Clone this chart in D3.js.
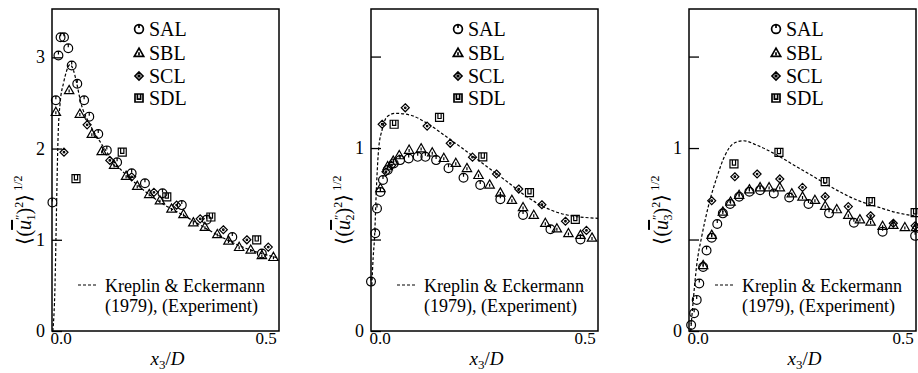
<!DOCTYPE html>
<html>
<head>
<meta charset="utf-8">
<script src="https://cdn.jsdelivr.net/npm/d3@7"></script>
<style>
  @font-face { font-family: "PaperSerif"; src: local("Liberation Serif"), local("LiberationSerif"), local("Tinos"); }
  @font-face { font-family: "PaperSerif"; font-style: italic; src: local("Liberation Serif Italic"), local("LiberationSerif-Italic"); }
  text, tspan { font-family: "Liberation Serif", "Times New Roman", Tinos, PaperSerif, serif !important; }
</style>
</head>
<body style="margin:0">
<svg id="chart" width="918" height="373"></svg>
<script>
// ---- data (x3/D, rms value) ----
const seriesNames = ['SAL', 'SBL', 'SCL', 'SDL'];
const refLines = ['Kreplin & Eckermann', '(1979), (Experiment)'];
const xTickValues = [0, 0.5];

// panel 1 : <(u1'')^2>^1/2
const u1YTicks = [0, 1, 2, 3];
const u1YLabels = [0, 1, 2, 3];
const u1SAL = [[0.001,1.41],[0.009,2.53],[0.015,3.02],[0.020,3.22],[0.028,3.22],[0.038,3.10],[0.046,2.91],[0.059,2.71],[0.075,2.53],[0.087,2.35],[0.108,2.16],[0.128,1.98],[0.152,1.85],[0.186,1.73],[0.217,1.62],[0.258,1.51],[0.303,1.38],[0.361,1.22],[0.421,1.03],[0.490,0.85]];
const u1SBL = [[0.009,2.40],[0.040,2.64],[0.065,2.38],[0.093,2.16],[0.116,1.97],[0.145,1.82],[0.173,1.70],[0.199,1.59],[0.227,1.50],[0.252,1.43],[0.279,1.34],[0.307,1.28],[0.330,1.19],[0.357,1.14],[0.386,1.06],[0.412,0.99],[0.437,0.92],[0.464,0.89],[0.490,0.83],[0.517,0.81]];
const u1SCL = [[0.028,1.96],[0.082,2.26],[0.135,1.87],[0.186,1.69],[0.238,1.52],[0.291,1.38],[0.346,1.23],[0.400,1.11],[0.455,1.00],[0.505,0.92]];
const u1SDL = [[0.056,1.67],[0.164,1.96],[0.268,1.47],[0.371,1.25],[0.478,1.00]];
const u1Kreplin = [[0.002,0],[0.007,0.5],[0.010,1.2],[0.012,1.7],[0.014,2.1],[0.019,2.5],[0.027,2.72],[0.034,2.85],[0.042,2.92],[0.050,2.86],[0.058,2.71],[0.066,2.53],[0.090,2.25],[0.113,2.07],[0.142,1.87],[0.190,1.64],[0.250,1.42],[0.314,1.25],[0.376,1.08],[0.440,0.93],[0.530,0.80]];

// panel 2 : <(u2'')^2>^1/2
const u2YTicks = [0, 0.5, 1, 1.5];
const u2YLabels = [0, 1];
const u2SAL = [[0.000,0.27],[0.010,0.534],[0.014,0.67],[0.022,0.76],[0.028,0.825],[0.039,0.88],[0.053,0.916],[0.068,0.934],[0.088,0.943],[0.109,0.952],[0.127,0.952],[0.152,0.934],[0.181,0.89],[0.216,0.838],[0.255,0.798],[0.302,0.72],[0.355,0.634],[0.419,0.556],[0.489,0.50]];
const u2SBL = [[0.022,0.78],[0.039,0.90],[0.052,0.93],[0.066,0.96],[0.089,0.99],[0.117,0.998],[0.143,0.975],[0.170,0.945],[0.198,0.918],[0.224,0.89],[0.251,0.852],[0.277,0.80],[0.302,0.756],[0.329,0.716],[0.355,0.676],[0.380,0.634],[0.407,0.59],[0.434,0.56],[0.461,0.534],[0.489,0.525],[0.516,0.51]];
const u2SCL = [[0.026,1.13],[0.035,0.87],[0.048,0.905],[0.080,1.22],[0.131,1.12],[0.185,1.026],[0.237,0.95],[0.293,0.858],[0.345,0.776],[0.399,0.69],[0.454,0.60],[0.503,0.55]];
const u2SDL = [[0.054,1.13],[0.160,1.168],[0.261,0.952],[0.370,0.756],[0.477,0.61]];
const u2Kreplin = [[0.002,0.25],[0.005,0.40],[0.008,0.50],[0.013,0.80],[0.018,1.00],[0.026,1.10],[0.037,1.17],[0.057,1.19],[0.092,1.18],[0.131,1.135],[0.177,1.06],[0.224,0.98],[0.271,0.898],[0.318,0.816],[0.364,0.734],[0.411,0.67],[0.458,0.634],[0.530,0.616]];

// panel 3 : <(u3'')^2>^1/2
const u3YTicks = [0, 0.5, 1, 1.5];
const u3YLabels = [0, 1];
const u3SAL = [[0.005,0.033],[0.012,0.097],[0.018,0.17],[0.024,0.26],[0.033,0.35],[0.041,0.44],[0.053,0.51],[0.066,0.585],[0.079,0.643],[0.096,0.694],[0.117,0.734],[0.141,0.761],[0.166,0.77],[0.198,0.752],[0.234,0.73],[0.279,0.694],[0.327,0.643],[0.385,0.592],[0.452,0.543],[0.528,0.52]];
const u3SBL = [[0.033,0.36],[0.053,0.525],[0.079,0.652],[0.097,0.707],[0.117,0.743],[0.141,0.774],[0.166,0.785],[0.187,0.785],[0.212,0.785],[0.240,0.752],[0.265,0.734],[0.294,0.716],[0.318,0.683],[0.345,0.665],[0.372,0.634],[0.399,0.61],[0.424,0.597],[0.452,0.574],[0.477,0.579],[0.504,0.567],[0.530,0.567]];
const u3SCL = [[0.053,0.712],[0.107,0.843],[0.159,0.858],[0.212,0.831],[0.265,0.785],[0.318,0.734],[0.372,0.68],[0.424,0.63],[0.477,0.589],[0.528,0.575]];
const u3SDL = [[0.105,0.913],[0.210,0.976],[0.318,0.816],[0.424,0.707],[0.528,0.647]];
const u3Kreplin = [[0.004,0],[0.010,0.17],[0.018,0.36],[0.030,0.52],[0.045,0.68],[0.065,0.84],[0.084,0.96],[0.104,1.025],[0.127,1.04],[0.158,1.016],[0.205,0.962],[0.251,0.898],[0.298,0.834],[0.345,0.77],[0.392,0.716],[0.438,0.68],[0.485,0.647],[0.530,0.628]];

// ---- layout ----
const svg = d3.select('#chart');
const TOP = 9, BOTTOM = 331, PW = 227, X_MAX = 0.53;
const ink = '#000';

const panels = [
  { left: 52,  yMax: 3.53, ticks: u1YTicks, labels: u1YLabels, series: [u1SAL, u1SBL, u1SCL, u1SDL], ref: u1Kreplin, sub: '1' },
  { left: 371, yMax: 1.76, ticks: u2YTicks, labels: u2YLabels, series: [u2SAL, u2SBL, u2SCL, u2SDL], ref: u2Kreplin, sub: '2' },
  { left: 689, yMax: 1.76, ticks: u3YTicks, labels: u3YLabels, series: [u3SAL, u3SBL, u3SCL, u3SDL], ref: u3Kreplin, sub: '3' },
];

// marker outlines, one per series (circle / triangle / diamond / square with small inner mark)
const markerPaths = [
  'M-4.4,0a4.4,4.4 0 1,0 8.8,0a4.4,4.4 0 1,0 -8.8,0M0,-4.4V-1',
  'M0,-4.8L4.7,3.4H-4.7ZM0,-0.8V2.2',
  'M0,-4L4,0L0,4L-4,0ZM-0.8,0a0.8,0.8 0 1,0 1.6,0a0.8,0.8 0 1,0 -1.6,0',
  'M-4,-4H4V4H-4ZM-1.6,-4V1.2H1.6V-4',
];

function addText(parent, size) {
  return parent.append('text')
    .style('font-family', '"Liberation Serif"')
    .style('font-size', size + 'px');
}

panels.forEach((p) => {
  const g = svg.append('g');
  const x = d3.scaleLinear().domain([0, X_MAX]).range([p.left, p.left + PW]);
  const y = d3.scaleLinear().domain([0, p.yMax]).range([BOTTOM, TOP]);

  // y axis: inward tick marks, labels as own text
  const axisY = d3.axisLeft(y).tickValues(p.ticks).tickSize(-10).tickFormat('');
  const gy = g.append('g').attr('transform', `translate(${p.left},0)`).call(axisY);
  gy.select('.domain').remove();
  gy.selectAll('line').attr('stroke', ink).attr('stroke-width', 1.3);
  p.labels.forEach((v) => {
    addText(g, 18).attr('x', p.left - 7).attr('y', y(v)).attr('dy', '0.34em')
      .attr('text-anchor', 'end').text(d3.format('d')(v));
  });

  // x tick labels
  xTickValues.forEach((v) => {
    addText(g, 17).attr('x', x(v) + (v === 0 ? 9 : 0)).attr('y', BOTTOM + 13)
      .attr('text-anchor', 'middle').text(d3.format('.1f')(v));
  });

  // frame
  g.append('rect')
    .attr('x', p.left).attr('y', TOP)
    .attr('width', PW).attr('height', BOTTOM - TOP)
    .attr('fill', 'none').attr('stroke', ink).attr('stroke-width', 1.5);

  // reference curve
  const line = d3.line().x((d) => x(d[0])).y((d) => y(d[1])).curve(d3.curveMonotoneX);
  g.append('path')
    .datum(p.ref)
    .attr('d', line)
    .attr('fill', 'none').attr('stroke', ink).attr('stroke-width', 1.2)
    .attr('stroke-dasharray', '3,2');

  // scatter series
  p.series.forEach((data, i) => {
    g.append('g').selectAll('path')
      .data(data)
      .join('path')
      .attr('transform', (d) => `translate(${x(d[0])},${y(d[1])})`)
      .attr('d', markerPaths[i])
      .attr('fill', 'none').attr('stroke', ink).attr('stroke-width', 1.2);
  });

  // legend
  const lg = g.append('g').attr('transform', `translate(${p.left},0)`);
  seriesNames.forEach((name, i) => {
    const cy = [29, 53, 76, 98][i];
    lg.append('path')
      .attr('transform', `translate(87,${cy})`)
      .attr('d', markerPaths[i])
      .attr('fill', 'none').attr('stroke', ink).attr('stroke-width', 1.7);
    addText(lg, 20).attr('x', 97).attr('y', cy + 7).text(name);
  });
  lg.append('line')
    .attr('x1', 26).attr('x2', 45).attr('y1', 285).attr('y2', 285)
    .attr('stroke', ink).attr('stroke-width', 1.2).attr('stroke-dasharray', '3,2');
  refLines.forEach((t, i) => {
    addText(lg, 18).attr('x', 53).attr('y', 292 + i * 20).text(t);
  });

  // x title
  const xt = addText(g, 19)
    .attr('x', p.left + PW / 2 + 2).attr('y', 365)
    .attr('text-anchor', 'middle');
  xt.append('tspan').attr('font-style', 'italic').text('x');
  xt.append('tspan').style('font-size', '13px').attr('dy', 4).text('3');
  xt.append('tspan').attr('dy', -4).text('/');
  xt.append('tspan').attr('font-style', 'italic').text('D');

  // y title, read bottom to top
  const yt = addText(g, 20)
    .attr('transform', `translate(${p.left - 21},210) rotate(-90)`)
    .attr('text-anchor', 'middle');
  yt.append('tspan').text('\u27E8(');
  yt.append('tspan').attr('font-style', 'italic').style('text-decoration', 'overline').text('u');
  yt.append('tspan').style('font-size', '13px').attr('dy', -7).text('\u2033');
  yt.append('tspan').style('font-size', '12px').attr('dx', -6).attr('dy', 11).text(p.sub);
  yt.append('tspan').attr('dy', -4).text(')');
  yt.append('tspan').style('font-size', '12px').attr('dy', -8).text('2');
  yt.append('tspan').attr('dy', 8).text('\u27E9');
  yt.append('tspan').style('font-size', '12px').attr('dx', 3).attr('dy', -9).text('1/2');
});
</script>
</body>
</html>
